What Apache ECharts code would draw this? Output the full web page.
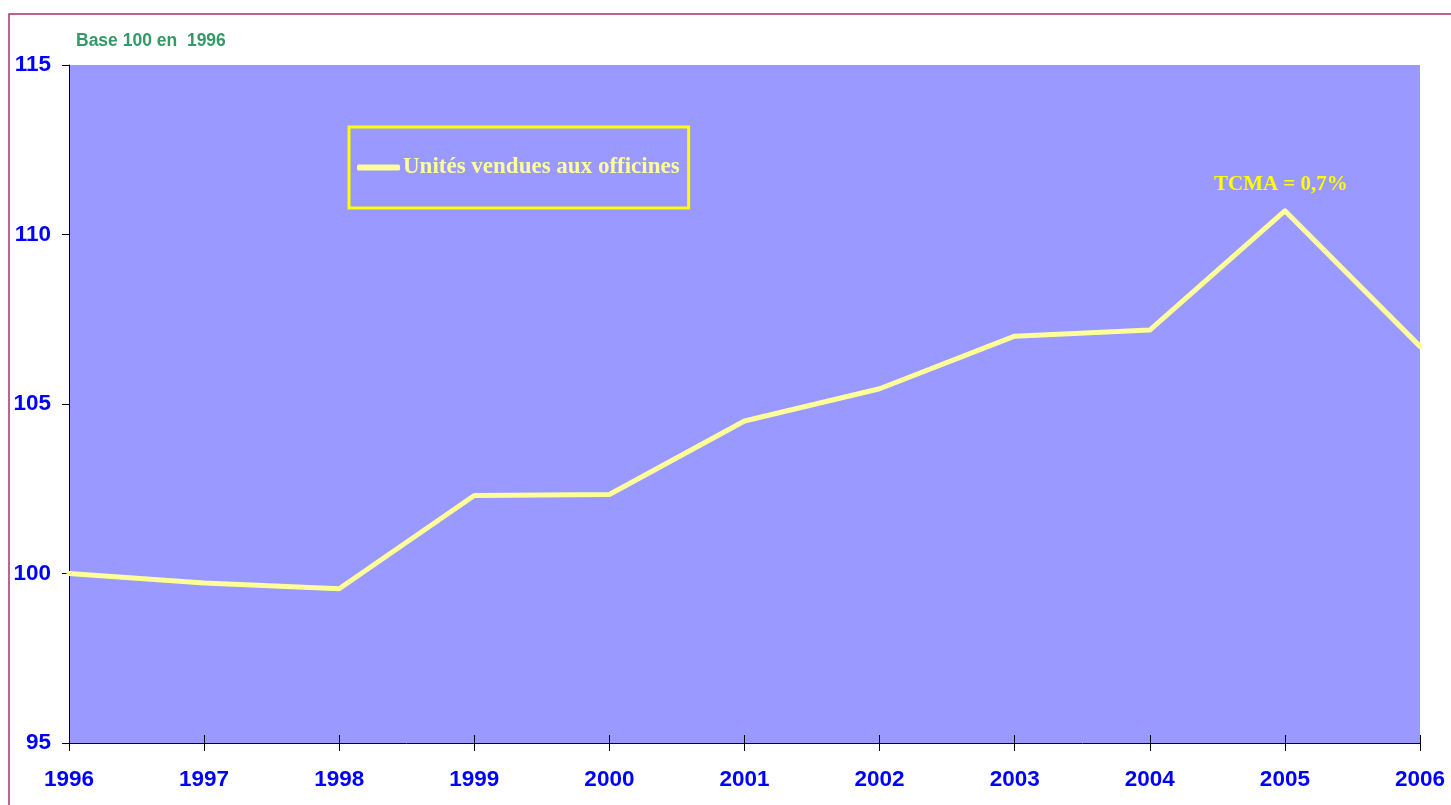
<!DOCTYPE html>
<html>
<head>
<meta charset="utf-8">
<script src="https://cdn.jsdelivr.net/npm/echarts@6/dist/echarts.min.js"></script>
<style>
  html, body { margin: 0; padding: 0; background: #ffffff; }
  #chart { width: 1451px; height: 805px; }
</style>
</head>
<body>
<div id="chart"></div>
<script>
// Indice des unités vendues aux officines, base 100 en 1996
const years = ['1996', '1997', '1998', '1999', '2000', '2001', '2002', '2003', '2004', '2005', '2006'];
const unitesVendues = [100, 99.72, 99.55, 102.3, 102.33, 104.5, 105.45, 107.0, 107.18, 110.7, 106.7];
const seriesName = 'Unités vendues aux officines';
const yTicks = { min: 95, max: 115, interval: 5 };
const noteText = 'Base 100 en  1996';
const tcmaText = 'TCMA = 0,7%';
const tcmaYear = '2005';

const chart = echarts.init(document.getElementById('chart'), null, { renderer: 'canvas' });

const axisLabelStyle = {
  color: '#0000FF',
  fontFamily: 'Liberation Sans, Arial, sans-serif',
  fontWeight: 'bold',
  fontSize: 22.5
};

chart.setOption({
  backgroundColor: '#ffffff',
  animation: false,
  grid: {
    left: 69, right: 31, top: 65, bottom: 62,
    show: true, backgroundColor: '#9999FF', borderWidth: 0
  },
  graphic: [
    {
      type: 'polyline',
      shape: { points: [[9, 810], [9, 14], [1460, 14]] },
      style: { stroke: '#A3336B', lineWidth: 1.5, fill: null },
      silent: true
    },
    {
      type: 'text',
      left: 76, top: 32,
      style: {
        text: noteText,
        fill: '#339966',
        font: 'bold 17.5px "Liberation Sans", Arial, sans-serif'
      }
    }
  ],
  legend: {
    left: 349, top: 127,
    padding: [29, 9, 29, 8],
    borderColor: '#FFFF00',
    borderWidth: 3,
    itemWidth: 43,
    itemHeight: 6,
    itemGap: 5,
    icon: 'roundRect',
    itemStyle: { color: '#FFFF99', borderWidth: 0 },
    textStyle: {
      color: '#FFFF99',
      fontFamily: 'Liberation Serif, "Times New Roman", serif',
      fontWeight: 'bold',
      fontSize: 23,
      padding: [0, 0, 0, -2]
    },
    data: [seriesName]
  },
  xAxis: [
    {
      type: 'category',
      data: years,
      boundaryGap: false,
      axisLine: { lineStyle: { color: '#000000', width: 1 } },
      axisTick: { show: true, length: 8, lineStyle: { color: '#000000' } },
      axisLabel: Object.assign({ margin: 25, interval: 0 }, axisLabelStyle),
      splitLine: { show: false }
    },
    {
      // inner half of the crossing tick marks
      type: 'category',
      data: years,
      position: 'bottom',
      boundaryGap: false,
      axisLine: { show: false },
      axisTick: { show: true, inside: true, length: 8, lineStyle: { color: '#000000' } },
      axisLabel: { show: false },
      splitLine: { show: false }
    }
  ],
  yAxis: {
    type: 'value',
    min: yTicks.min, max: yTicks.max, interval: yTicks.interval,
    axisLine: { show: true, lineStyle: { color: '#000000', width: 1 } },
    axisTick: { show: true, length: 7, lineStyle: { color: '#000000' } },
    axisLabel: Object.assign({ margin: 18 }, axisLabelStyle),
    splitLine: { show: false }
  },
  series: [
    {
      name: seriesName,
      type: 'line',
      data: unitesVendues,
      symbol: 'none',
      lineStyle: { color: '#FFFF99', width: 5, cap: 'round', join: 'round' },
      itemStyle: { color: '#FFFF99' },
      markPoint: {
        symbol: 'circle',
        symbolSize: 0,
        data: [{
          coord: [tcmaYear, unitesVendues[years.indexOf(tcmaYear)]],
          label: {
            show: true,
            formatter: tcmaText,
            position: 'top',
            distance: 16,
            offset: [-4, 0],
            color: '#FFFF00',
            fontFamily: 'Liberation Serif, "Times New Roman", serif',
            fontWeight: 'bold',
            fontSize: 21
          }
        }]
      }
    }
  ]
});
</script>
</body>
</html>
